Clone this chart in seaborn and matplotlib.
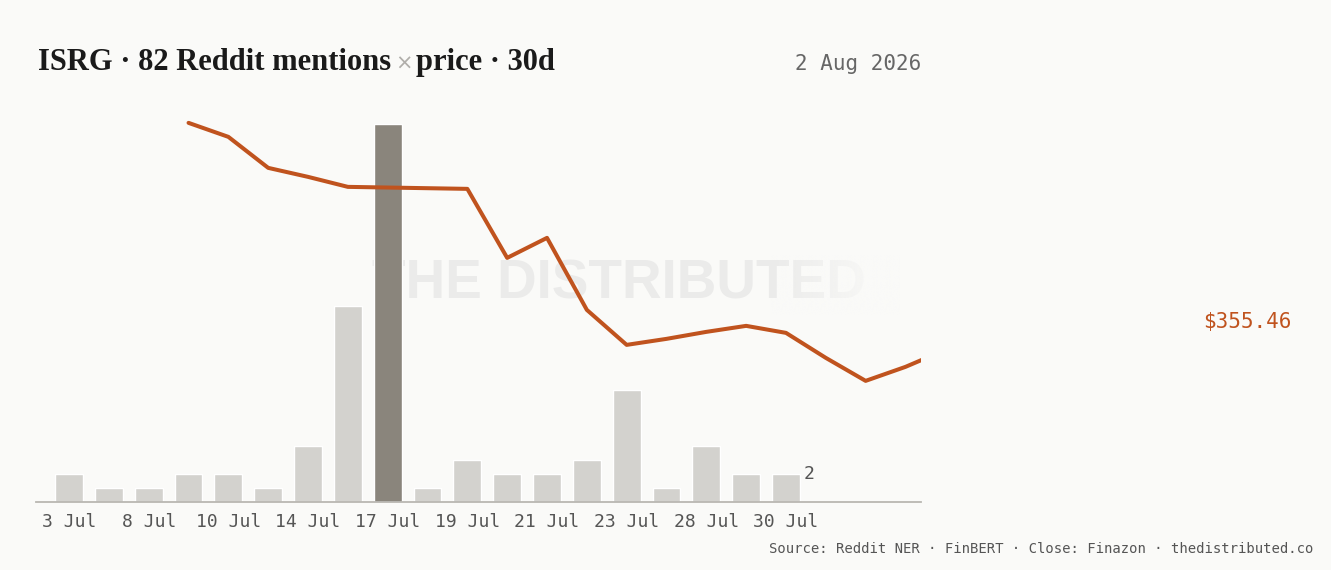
import numpy as np
import pandas as pd
import seaborn as sns
import matplotlib
matplotlib.use("Agg")
import matplotlib.pyplot as plt
from matplotlib.colors import to_rgb

# mentions per day (one bar per day that had mentions)
mention_days = ["3 Jul", "7 Jul", "8 Jul", "9 Jul", "10 Jul", "13 Jul", "14 Jul", "16 Jul",
                "17 Jul", "18 Jul", "19 Jul", "20 Jul", "21 Jul", "22 Jul", "23 Jul",
                "27 Jul", "28 Jul", "29 Jul", "30 Jul"]
mentions = [2, 1, 1, 2, 2, 1, 4, 14, 27, 1, 3, 2, 2, 3, 8, 1, 4, 2, 2]
peak_day = "17 Jul"

# close price, same day grid, running past the last mention day
extra_days = ["31 Jul", "1 Aug", "2 Aug", "3 Aug"]
price_days = ["9 Jul", "10 Jul", "13 Jul", "14 Jul", "16 Jul", "17 Jul", "18 Jul", "19 Jul",
              "20 Jul", "21 Jul", "22 Jul", "23 Jul", "27 Jul", "28 Jul", "29 Jul", "30 Jul",
              "31 Jul", "1 Aug", "2 Aug", "3 Aug"]
price = [423.6, 419.4, 410.1, 407.4, 404.4, 404.2, 404.0, 403.8, 383.1, 389.1,
         367.5, 357.0, 358.8, 360.9, 362.7, 360.6, 353.1, 346.2, 350.4, 355.5]
last_close = "$355.46"

tick_days = mention_days[::2]

BG = "#fafaf8"
BAR = "#d3d2ce"
PEAK = "#8a857c"
LINE = "#c0531e"
MONO = "DejaVu Sans Mono"

sns.set_style("white")
plt.rcParams["font.family"] = ["DejaVu Sans"]

W, H = 1331, 570
fig = plt.figure(figsize=(W / 100, H / 100), dpi=100, facecolor=BG)

x0, x1, ytop, ybot = 36, 921, 100, 502
ax = fig.add_axes([x0 / W, 1 - ybot / H, (x1 - x0) / W, (ybot - ytop) / H])
ax.set_facecolor(BG)

axis_days = mention_days + extra_days
df = pd.DataFrame({"day": mention_days, "n": mentions})
df["kind"] = np.where(df["day"] == peak_day, "peak", "normal")
sns.barplot(data=df, x="day", y="n", hue="kind", palette={"normal": BAR, "peak": PEAK},
            order=mention_days, width=0.7, legend=False, dodge=False, ax=ax, zorder=2,
            saturation=1)

ax.set_xticks(range(0, len(mention_days), 2))
ax.set_xticklabels(tick_days, fontsize=13, family=MONO, color="#555555")
ax.tick_params(axis="x", length=0, pad=8)
ax.set_yticks([])
ax.set_xlabel("")
ax.set_ylabel("")
for s in ["top", "right", "left"]:
    ax.spines[s].set_visible(False)
ax.spines["bottom"].set_color("#b9b7b2")
ax.spines["bottom"].set_linewidth(1.3)

ax.text(len(mentions) - 1 + 0.45, mentions[-1], str(mentions[-1]), fontsize=13,
        family=MONO, color="#555555", va="center", ha="left")

# watermark, fading out to the right
ax.text((372 - x0) / (x1 - x0), (ybot - 285) / (ybot - ytop), "THE DISTRIBUTED",
        transform=ax.transAxes, fontsize=39.5, fontweight="bold", color="#ebebea",
        family="Liberation Sans", ha="left", va="center", zorder=0.5, clip_on=False)
grad = np.zeros((1, 200, 4))
grad[..., :3] = to_rgb(BG)
grad[0, :, 3] = np.clip(np.linspace(0.0, 1.1, 200), 0, 1)
gx0, gx1 = (770 - x0) / (x1 - x0), (900 - x0) / (x1 - x0)
gy0, gy1 = (ybot - 315) / (ybot - ytop), (ybot - 255) / (ybot - ytop)
ax.imshow(grad, extent=[gx0, gx1, gy0, gy1], transform=ax.transAxes, aspect="auto",
          zorder=0.6, clip_on=False)
ax.set_xlim(-0.83, 21.39)
ax.set_ylim(0, (ybot - ytop) / 14)

# price line on a twin axis
ax2 = ax.twinx()
pdf = pd.DataFrame({"pos": [axis_days.index(d) for d in price_days], "close": price})
sns.lineplot(data=pdf, x="pos", y="close", color=LINE, linewidth=2.9, ax=ax2)
ax2.set_ylim(355.46 + (350 - ybot) * 0.3, 355.46 + (350 - ytop) * 0.3)
ax2.set_xlim(-0.83, 21.39)
ax2.set_yticks([])
ax2.set_ylabel("")
ax2.set_xlabel("")
for s in ["top", "right", "left", "bottom"]:
    ax2.spines[s].set_visible(False)

# titles and notes
fig.canvas.draw()
r = fig.canvas.get_renderer()
ty = 1 - 70 / H
t1 = fig.text(38 / W, ty, "ISRG · 82 Reddit mentions", fontsize=22, fontweight="bold",
              family="Liberation Serif", color="#1a1a1a", va="baseline")
bb = t1.get_window_extent(r)
t2 = fig.text((bb.x1 + 4) / W, ty, "×", fontsize=15, family="DejaVu Sans",
              color="#b0aeaa", va="baseline")
bb2 = t2.get_window_extent(r)
fig.text((bb2.x1 + 3) / W, ty, "price · 30d", fontsize=22, fontweight="bold",
         family="Liberation Serif", color="#1a1a1a", va="baseline")

fig.text(921 / W, ty, "2 Aug 2026", fontsize=15, family=MONO, color="#666666",
         ha="right", va="baseline")
fig.text(1203 / W, 1 - 322 / H, last_close, fontsize=15, family=MONO, color=LINE,
         ha="left", va="center")
fig.text(1313 / W, 1 - 553 / H,
         "Source: Reddit NER · FinBERT · Close: Finazon · thedistributed.co",
         fontsize=10, family=MONO, color="#555555", ha="right", va="baseline")

fig.savefig("out.png", dpi=100, facecolor=BG)
